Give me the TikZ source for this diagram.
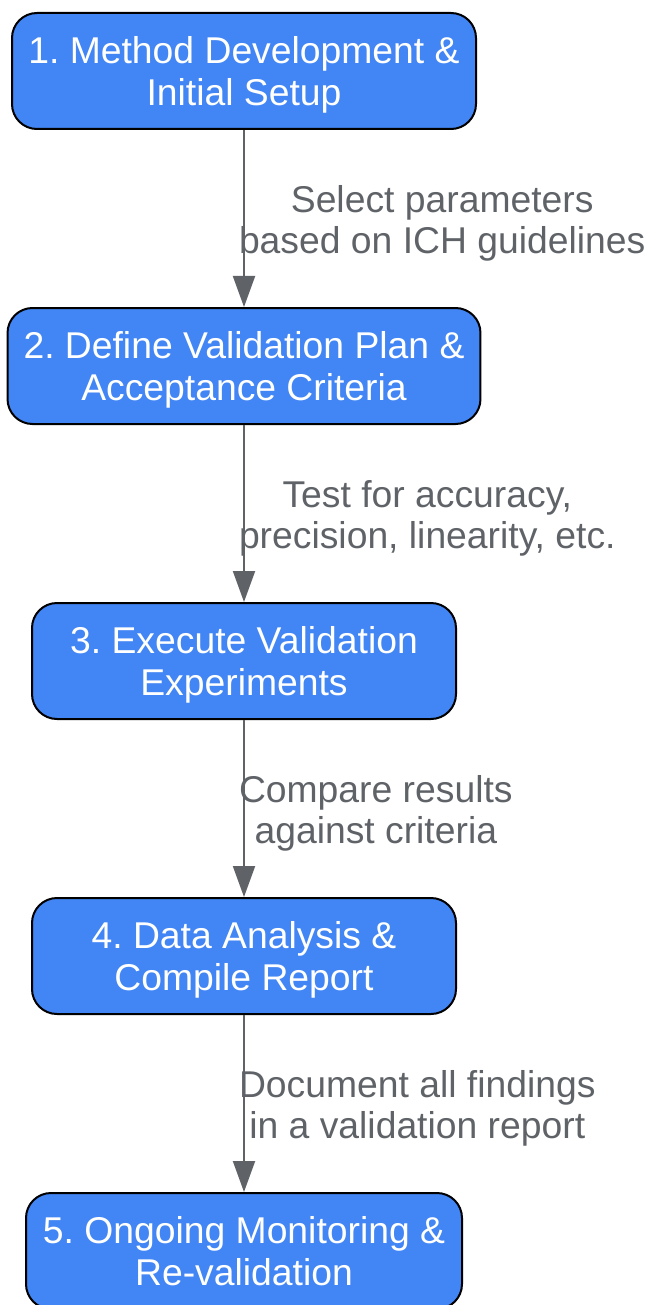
\documentclass[tikz,border=0pt]{standalone}
\usepackage{fontspec}
\setmainfont{Liberation Sans}
\frenchspacing
\usetikzlibrary{arrows,arrows.meta,positioning}
\definecolor{stepblue}{HTML}{4285F4}
\definecolor{edgegray}{HTML}{5F6368}

\begin{document}
\begin{tikzpicture}[ -, node distance = 177pt,
                    auto, main/.style = {draw=black, line width=2pt, fill=stepblue,
                      text=white, rounded corners=25pt, align=center,
                      minimum height=116pt, inner xsep=16pt, inner ysep=0pt,
                      text depth=-4pt,
                      font=\fontsize{37.3pt}{42pt}\selectfont},
                    lbl/.style = {anchor=west, xshift=-6pt, yshift=-5pt, inner sep=0pt,
                      align=center, text=edgegray,
                      font=\fontsize{37.3pt}{41pt}\selectfont},
                    every edge/.append style = {color=edgegray, line width=2pt,
                      -{Triangle[length=31pt,width=22pt]}}]
\useasboundingbox (0,0) rectangle (647pt,-1305pt);
\begin{scope}
    \node[main, minimum width=464pt] (s1) at (244pt,-71pt) {1. Method Development \&\\Initial Setup};
\node[main, minimum width=470pt, below= of s1] (s2)  {2. Define Validation Plan \&\\Acceptance Criteria};
\node[main, minimum width=424pt, below= of s2] (s3)  {3. Execute Validation\\Experiments};
\node[main, minimum width=424pt, below= of s3] (s4)  {4. Data Analysis \&\\Compile Report};
\node[main, minimum width=436pt, below= of s4] (s5)  {5. Ongoing Monitoring \&\\Re-validation};
    \path
(s1) edge node[lbl] {Select parameters\\based on ICH guidelines} (s2)
(s2) edge node[lbl] {Test for accuracy,\\precision, linearity, etc.} (s3)
(s3) edge node[lbl] {Compare results\\against criteria} (s4)
(s4) edge node[lbl] {Document all findings\\in a validation report} (s5);\end{scope}  \end{tikzpicture}
\end{document}
